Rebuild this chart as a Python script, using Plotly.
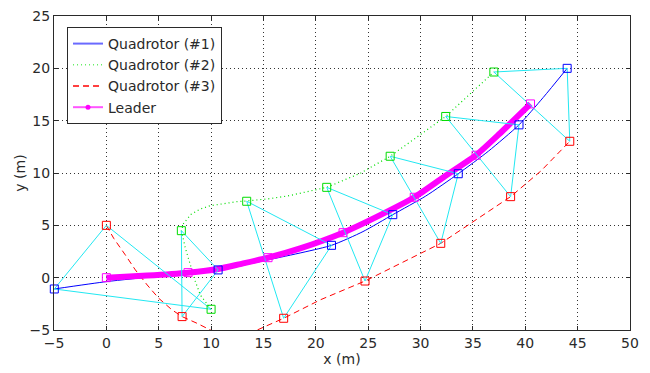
import plotly.graph_objects as go

# ---- snapshot positions (markers) ----
leader_x = [0, 7.8, 15.44, 22.6, 29.4, 35.3, 40.5]
leader_y = [0, 0.48, 1.91, 4.3, 7.68, 11.7, 16.6]
q1_x = [-4.97, 10.67, 21.5, 27.35, 33.6, 39.4, 44.0]
q1_y = [-1.08, 0.74, 3.09, 6.02, 9.93, 14.6, 20.0]
q2_x = [10.0, 7.16, 13.4, 21.04, 27.1, 32.4, 37.0]
q2_y = [-3.02, 4.49, 7.3, 8.63, 11.6, 15.4, 19.65]
q3_x = [0.0, 7.23, 16.93, 24.7, 31.93, 38.6, 44.25]
q3_y = [5.0, -3.72, -3.88, -0.32, 3.28, 7.74, 13.03]

# ---- trajectories ----
leader_path_x = [0, 3.9, 7.8, 10.67, 12.8, 15.44, 18.5, 22.6, 26, 29.4, 32.2, 35.3, 37.6, 40.5]
leader_path_y = [0, 0.2, 0.48, 0.83, 1.3, 1.91, 2.8, 4.3, 5.9, 7.68, 9.6, 11.7, 13.8, 16.6]
q1_path_x = [-4.97, 0, 5, 10.67, 15.4, 21.5, 24.5, 27.35, 30.5, 33.6, 36.5, 39.4, 41.7, 44.0]
q1_path_y = [-1.08, -0.38, 0.15, 0.74, 1.69, 3.09, 4.4, 6.02, 7.8, 9.93, 12.1, 14.6, 17.2, 20.0]
q2_path_x = [10.0, 8.98, 8.5, 8.0, 7.55, 7.16, 7.38, 8.09, 8.98, 9.93, 11.2, 12.48, 13.4,
             15.35, 17.3, 21.04, 24.3, 27.1, 32.4, 37.0]
q2_path_y = [-3.02, -1.67, -0.38, 1.2, 2.8, 4.49, 5.2, 6.05, 6.56, 6.88, 7.1, 7.26, 7.33,
             7.52, 7.8, 8.63, 10.0, 11.6, 15.4, 19.65]
q3_path_x = [0.0, 0.7, 1.81, 2.77, 3.9, 5.0, 6.27, 7.23, 8.66, 9.93, 11.2, 12.4, 13.5, 14.4,
             15.6, 16.93, 20.4, 24.7, 31.93, 38.6, 41.5, 44.25]
q3_path_y = [5.0, 3.76, 2.17, 0.74, -0.7, -1.97, -3.08, -3.72, -4.36, -5.0, -5.4, -5.55, -5.4,
             -5.0, -4.5, -3.88, -2.13, -0.32, 3.28, 7.74, 10.2, 13.03]

x_ticks = [-5, 0, 5, 10, 15, 20, 25, 30, 35, 40, 45, 50]
y_ticks = [-5, 0, 5, 10, 15, 20, 25]

BLUE, GREEN, RED, MAG, CYAN = "#0000ff", "#00dd00", "#ff0000", "#ff00ff", "#22e8f2"
FONT = "DejaVu Sans"
TXT = "#2a2a2a"
FS = 14

fig = go.Figure()

# legend-only entries
fig.add_trace(go.Scatter(x=[None], y=[None], mode="lines", name="Quadrotor (#1)",
                         line=dict(color="#6a6aff", width=2)))
fig.add_trace(go.Scatter(x=[None], y=[None], mode="lines", name="Quadrotor (#2)",
                         line=dict(color="#66ee66", width=1.5, dash="1px,3px")))
fig.add_trace(go.Scatter(x=[None], y=[None], mode="lines", name="Quadrotor (#3)",
                         line=dict(color=RED, width=1.5, dash="6px,4px")))
fig.add_trace(go.Scatter(x=[None], y=[None], mode="lines+markers", name="Leader",
                         line=dict(color="#ff55ff", width=2), marker=dict(color=MAG, size=5)))

# trajectories
fig.add_trace(go.Scatter(x=q1_path_x, y=q1_path_y, mode="lines", showlegend=False,
                         line=dict(color=BLUE, width=1, shape="spline", smoothing=0.6)))
fig.add_trace(go.Scatter(x=q2_path_x, y=q2_path_y, mode="lines", showlegend=False,
                         line=dict(color=GREEN, width=1.2, dash="1px,3px")))
fig.add_trace(go.Scatter(x=q3_path_x, y=q3_path_y, mode="lines", showlegend=False,
                         line=dict(color=RED, width=1, dash="6px,4px")))
fig.add_trace(go.Scatter(x=leader_path_x, y=leader_path_y, mode="lines", showlegend=False,
                         line=dict(color=MAG, width=6, shape="spline", smoothing=0.6)))

# formation triangles
cx, cy = [], []
for i in range(len(leader_x)):
    cx += [q2_x[i], q1_x[i], q3_x[i], q2_x[i], None]
    cy += [q2_y[i], q1_y[i], q3_y[i], q2_y[i], None]
fig.add_trace(go.Scatter(x=cx, y=cy, mode="lines", showlegend=False,
                         line=dict(color=CYAN, width=1)))

# snapshot markers
for xs, ys, col in [(leader_x, leader_y, MAG), (q1_x, q1_y, BLUE),
                    (q2_x, q2_y, GREEN), (q3_x, q3_y, RED)]:
    fig.add_trace(go.Scatter(x=xs, y=ys, mode="markers", showlegend=False, cliponaxis=False,
                             marker=dict(symbol="square-open", size=8, color=col,
                                         line=dict(width=1, color=col))))

axis_common = dict(showline=True, linecolor=TXT, linewidth=1, mirror="ticks",
                   ticks="inside", ticklen=4, tickcolor=TXT, automargin=False,
                   ticklabeloverflow="allow",
                   showgrid=True, gridcolor="#333", gridwidth=1, griddash="1px,3px",
                   zeroline=False, tickfont=dict(family=FONT, size=FS, color=TXT))

fig.update_xaxes(range=[-5, 50], tickvals=x_ticks,
                 title=dict(text="x (m)", font=dict(family=FONT, size=FS, color=TXT), standoff=2),
                 **axis_common)
fig.update_yaxes(range=[-5, 25], tickvals=y_ticks,
                 title=dict(text="y (m)", font=dict(family=FONT, size=FS, color=TXT), standoff=0),
                 **axis_common)

# page body has an 8px default margin, so the figure is offset by 8px
fig.update_layout(
    width=642, height=365,
    margin=dict(l=46, r=20, t=8, b=43),
    paper_bgcolor="white", plot_bgcolor="white",
    legend=dict(x=0.0226, y=0.965, xanchor="left", yanchor="top",
                bgcolor="white", bordercolor=TXT, borderwidth=1,
                font=dict(family=FONT, size=FS, color=TXT), tracegroupgap=0),
)

fig.write_html("out.html")
